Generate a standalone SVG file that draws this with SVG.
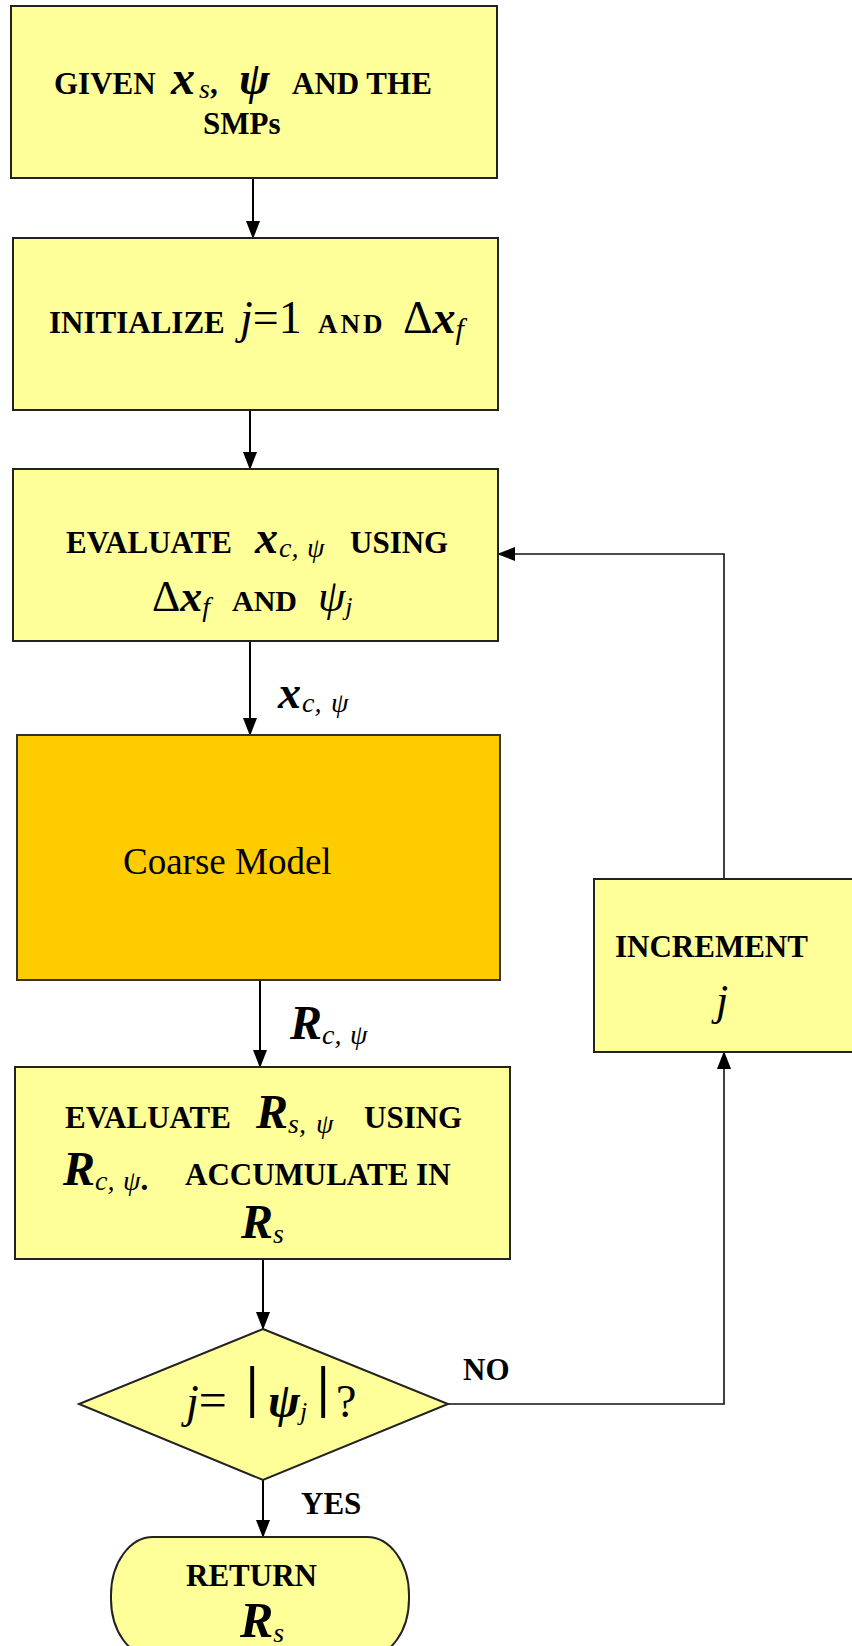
<svg xmlns="http://www.w3.org/2000/svg" width="852" height="1646" viewBox="0 0 852 1646">
<defs>
<style>
.box{fill:#FFFF99;stroke:#222;stroke-width:2}
.coarse{fill:#FFCC00;stroke:#333;stroke-width:2}
.ln{fill:none;stroke:#000;stroke-width:2}
.ln2{fill:none;stroke:#111;stroke-width:1.6}
text{font-family:"Liberation Serif","Times New Roman",serif;fill:#000}
.b{font-weight:bold;font-size:31px}
.bi{font-weight:bold;font-style:italic}
.i{font-style:italic}
.r{font-style:normal;font-weight:normal}
</style>
<marker id="arr" markerUnits="userSpaceOnUse" markerWidth="18" markerHeight="14" refX="17" refY="7" orient="auto" viewBox="0 0 18 14">
<path d="M0,0 L18,7 L0,14 z" fill="#000"/>
</marker>
</defs>
<rect width="852" height="1646" fill="#fff"/>

<g id="connectors">
<line class="ln" x1="253" y1="178" x2="253" y2="238" marker-end="url(#arr)"/>
<line class="ln" x1="250" y1="410" x2="250" y2="469" marker-end="url(#arr)"/>
<line class="ln" x1="250" y1="641" x2="250" y2="735" marker-end="url(#arr)"/>
<line class="ln" x1="260" y1="980" x2="260" y2="1067" marker-end="url(#arr)"/>
<line class="ln" x1="263" y1="1259" x2="263" y2="1329" marker-end="url(#arr)"/>
<line class="ln" x1="263" y1="1480" x2="263" y2="1537" marker-end="url(#arr)"/>
<polyline class="ln2" points="448,1404 724,1404 724,1052" marker-end="url(#arr)"/>
<polyline class="ln2" points="724,879 724,554 498,554" marker-end="url(#arr)"/>
<text class="b" x="463" y="1380">NO</text>
<text class="b" x="301" y="1514">YES</text>
<text y="708"><tspan class="bi" font-size="46" x="278">x</tspan><tspan class="i" font-size="28" x="302" dy="4">c,</tspan><tspan class="i" font-size="28" x="331">ψ</tspan></text>
<text y="1039"><tspan class="bi" font-size="48" x="290">R</tspan><tspan class="i" font-size="28" x="322" dy="5">c,</tspan><tspan class="i" font-size="28" x="350">ψ</tspan></text>
</g>

<g id="n1">
<rect class="box" x="11" y="6" width="486" height="172"/>
<text y="94"><tspan class="bi" font-size="48" x="171">x</tspan><tspan class="i" font-size="28" x="199" dy="4">s</tspan><tspan class="b" x="210" dy="-4">,</tspan><tspan class="bi" font-size="46" x="239">ψ</tspan><tspan class="b" x="292">AND THE</tspan></text>
<text class="b" x="54" y="94">GIVEN</text>
<text class="b" x="203" y="134">SMPs</text>
</g>

<g id="n2">
<rect class="box" x="13" y="238" width="485" height="172"/>
<text y="333"><tspan class="b" x="49">INITIALIZE</tspan><tspan class="i" font-size="46" x="240">j</tspan><tspan class="r" font-size="46">=1</tspan><tspan font-weight="bold" font-size="27" letter-spacing="3" x="318">AND</tspan><tspan class="r" font-size="46" x="403">Δ</tspan><tspan class="bi" font-size="46">x</tspan><tspan class="i" font-size="30" dy="6">f</tspan></text>
</g>

<g id="n3">
<rect class="box" x="13" y="469" width="485" height="172"/>
<text y="553"><tspan class="b" x="66">EVALUATE</tspan><tspan class="bi" font-size="46" x="255">x</tspan><tspan class="i" font-size="28" x="279" dy="4">c,</tspan><tspan class="i" font-size="28" x="307">ψ</tspan><tspan class="b" x="350" dy="-4">USING</tspan></text>
<text y="611"><tspan class="r" font-size="44" x="152">Δ</tspan><tspan class="bi" font-size="44">x</tspan><tspan class="i" font-size="28" dy="5">f</tspan><tspan font-weight="bold" font-size="30" x="232" dy="-5">AND</tspan><tspan class="i" font-size="44" x="318">ψ</tspan><tspan class="i" font-size="26" dy="4">j</tspan></text>
</g>

<g id="n4">
<rect class="coarse" x="17" y="735" width="483" height="245"/>
<text x="123" y="874" font-size="37">Coarse Model</text>
</g>

<g id="n5">
<rect class="box" x="15" y="1067" width="495" height="192"/>
<text y="1128"><tspan class="b" font-size="32px" x="65">EVALUATE</tspan><tspan class="bi" font-size="48" x="256">R</tspan><tspan class="i" font-size="28" x="288" dy="5">s,</tspan><tspan class="i" font-size="28" x="316">ψ</tspan><tspan class="b" font-size="32px" x="364" dy="-5">USING</tspan></text>
<text y="1185"><tspan class="bi" font-size="48" x="63">R</tspan><tspan class="i" font-size="28" x="95" dy="5">c,</tspan><tspan class="i" font-size="28" x="123">ψ</tspan><tspan class="b">.</tspan><tspan class="b" font-size="32px" x="185" dy="-5">ACCUMULATE IN</tspan></text>
<text y="1238"><tspan class="bi" font-size="48" x="241">R</tspan><tspan class="i" font-size="28" dy="5">s</tspan></text>
</g>

<g id="n6">
<rect class="box" x="594" y="879" width="262" height="173"/>
<text class="b" x="615" y="957">INCREMENT</text>
<text class="i" x="716" y="1015" font-size="44">j</text>
</g>

<g id="n7">
<polygon class="box" points="263,1329 448,1404 263,1480 79,1404"/>
<text y="1417"><tspan class="i" font-size="46" x="186">j</tspan><tspan class="r" font-size="50">=</tspan><tspan class="bi" font-size="48" x="268">ψ</tspan><tspan class="i" font-size="26" dy="3">j</tspan><tspan class="r" font-size="46" x="336" dy="-3">?</tspan></text>
<text font-weight="bold" font-size="56" x="246" y="1406">|</text>
<text font-weight="bold" font-size="56" x="317" y="1406">|</text>
</g>

<g id="n8">
<rect class="box" x="111" y="1537" width="298" height="120" rx="42" ry="58"/>
<text class="b" x="186" y="1586">RETURN</text>
<text y="1637"><tspan class="bi" font-size="50" x="240">R</tspan><tspan class="i" font-size="28" dy="5">s</tspan></text>
</g>
</svg>
